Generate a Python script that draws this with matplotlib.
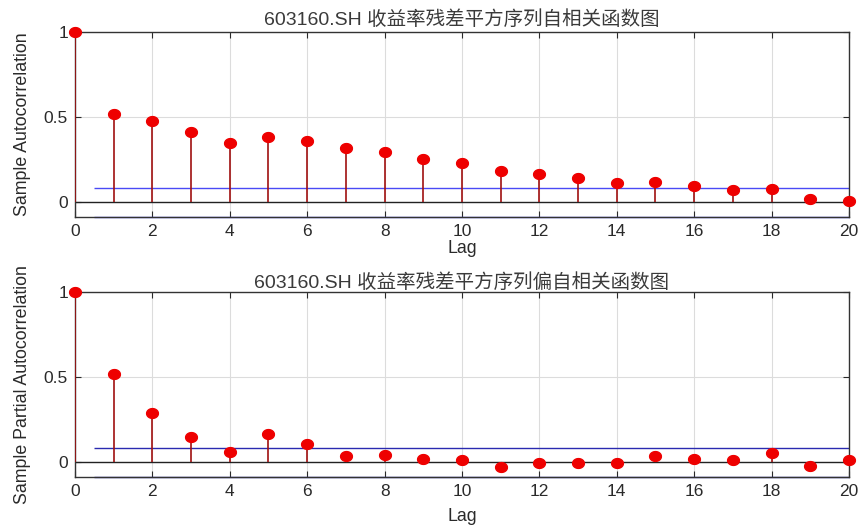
import matplotlib
matplotlib.use("Agg")
import matplotlib.pyplot as plt
import numpy as np

plt.rcParams['font.family'] = ['Liberation Sans', 'Noto Sans CJK SC', 'DejaVu Sans']

lags = list(range(21))
acf_vals = [1.0, 0.518, 0.475, 0.413, 0.346, 0.385, 0.358, 0.317, 0.297, 0.256, 0.233,
            0.186, 0.164, 0.141, 0.115, 0.121, 0.096, 0.072, 0.076, 0.020, 0.008]
pacf_vals = [1.0, 0.518, 0.291, 0.149, 0.059, 0.170, 0.110, 0.041, 0.045, 0.020, 0.016,
             -0.029, -0.002, -0.002, -0.004, 0.041, 0.020, 0.014, 0.053, -0.022, 0.016]
bound = 0.086
titles = ["603160.SH 收益率残差平方序列自相关函数图", "603160.SH 收益率残差平方序列偏自相关函数图"]
ylabels = ["Sample Autocorrelation", "Sample Partial Autocorrelation"]
xticks = [0, 2, 4, 6, 8, 10, 12, 14, 16, 18, 20]
yticks = [0, 0.5, 1]
ytick_labels = ["0", "0.5", "1"]

# slightly wide elliptical marker (the reference image is horizontally stretched)
t = np.linspace(0, 2 * np.pi, 40)
ell = np.column_stack([1.2 * np.cos(t), np.sin(t)])

fig = plt.figure(figsize=(8.64, 5.26), dpi=100)
axes_pos = [[0.0868, 0.5875, 0.8958, 0.3511], [0.0868, 0.0926, 0.8958, 0.3517]]
txt = '#2a2a2a'
line_cols = ['#4a4af5', '#2a2ab0']
title_pads = [5, 3]
xlabel_pads = [1, 6]

for pos, vals, title, ylab, bc, tp, xp in zip(axes_pos, [acf_vals, pacf_vals], titles, ylabels,
                                             line_cols, title_pads, xlabel_pads):
    ax = fig.add_axes(pos)
    ax.set_xlim(0, 20)
    ax.set_ylim(-0.087, 1)
    ax.grid(True, color='#dcdcdc', linewidth=0.8)
    ax.set_axisbelow(True)
    ax.vlines(lags, 0, vals, color='#a01010', linewidth=1.2, zorder=3)
    ax.plot(lags, vals, linestyle='none', marker=ell, color='#ee0000', markersize=8.5,
            zorder=4, clip_on=False)
    ax.axhline(0, color='#222222', linewidth=1.0, zorder=2)
    ax.hlines([bound, -bound], 0.5, 20, color=bc, linewidth=1.0, zorder=2, clip_on=False)
    ax.set_xticks(xticks)
    ax.set_yticks(yticks)
    ax.set_yticklabels(ytick_labels)
    ax.tick_params(direction='in', length=4, labelsize=12.5, colors=txt, top=True, right=True,
                   labeltop=False, labelright=False, pad=5)
    for s in ax.spines.values():
        s.set_color('#333333')
        s.set_linewidth(1.0)
    ax.set_title(title, fontsize=14, color='#3a3a3a', pad=tp)
    ax.set_ylabel(ylab, fontsize=12.8, color=txt, labelpad=9)
    ax.set_xlabel("Lag", fontsize=12.8, color=txt, labelpad=xp)

fig.savefig("out.png", dpi=100)
